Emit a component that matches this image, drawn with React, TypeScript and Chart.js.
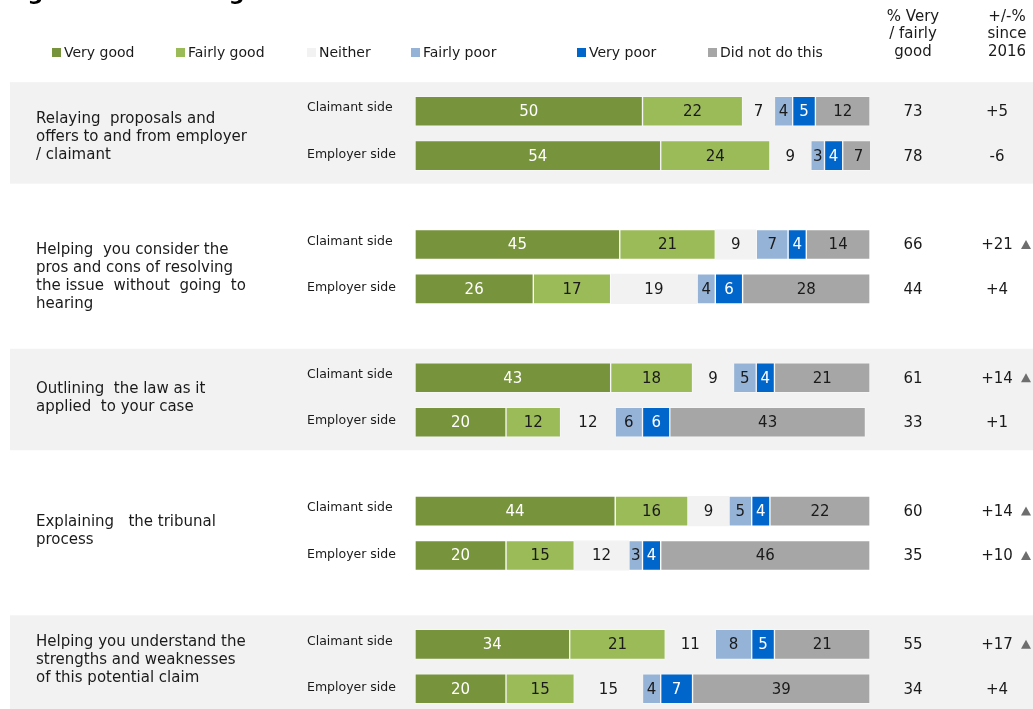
import React, { useEffect, useRef } from "react";
import { Chart, registerables } from "chart.js";

Chart.register(...registerables);

// ---------- data ----------
const titleText = "Figure 4.13: Ratings of the conciliator";
const seriesNames = ["Very good", "Fairly good", "Neither", "Fairly poor", "Very poor", "Did not do this"];
const groupLabels: string[][] = [
  ["Relaying  proposals and", "offers to and from employer", "/ claimant"],
  ["Helping  you consider the", "pros and cons of resolving", "the issue  without  going  to", "hearing"],
  ["Outlining  the law as it", "applied  to your case"],
  ["Explaining   the tribunal", "process"],
  ["Helping you understand the", "strengths and weaknesses", "of this potential claim"],
];
const sideLabels = ["Claimant side", "Employer side"];

// rows: claimant, employer for each group
const veryGood = [50, 54, 45, 26, 43, 20, 44, 20, 34, 20];
const fairlyGood = [22, 24, 21, 17, 18, 12, 16, 15, 21, 15];
const neither = [7, 9, 9, 19, 9, 12, 9, 12, 11, 15];
const fairlyPoor = [4, 3, 7, 4, 5, 6, 5, 3, 8, 4];
const veryPoor = [5, 4, 4, 6, 4, 6, 4, 4, 5, 7];
const didNotDo = [12, 7, 14, 28, 21, 43, 22, 46, 21, 39];
const pctVeryFairlyGood = [73, 78, 66, 44, 61, 33, 60, 35, 55, 34];
const changeSince2016 = ["+5", "-6", "+21", "+4", "+14", "+1", "+14", "+10", "+17", "+4"];
const significantUp = [false, false, true, false, true, false, true, true, true, false];
const headerPct = ["% Very", "/ fairly", "good"];
const headerChange = ["+/-%", "since", "2016"];

// ---------- styles / layout ----------
const colors = ["#77933c", "#9bbb59", "#f2f2f2", "#95b3d7", "#0066cc", "#a6a6a6"];
const borderColors = ["rgba(255,255,255,0.3)", "rgba(255,255,255,0.3)", "#f2f2f2", "rgba(255,255,255,0.3)", "rgba(255,255,255,0.3)", "rgba(255,255,255,0.3)"];
const labelColors = ["#ffffff", "#1a1a1a", "#1a1a1a", "#1a1a1a", "#ffffff", "#1a1a1a"];
const legendX = [52, 176, 307, 411, 577, 708];
const groupLabelOffset = [8, 6, 11, 11, -2];
const FONT = "'DejaVu Sans', Verdana, sans-serif";
const BAND = "#f2f2f2";

const allSeries = [veryGood, fairlyGood, neither, fairlyPoor, veryPoor, didNotDo];
const nGroups = groupLabels.length;
const nSlots = nGroups * 3 - 1;
const slotIndex = (row: number) => Math.floor(row / 2) * 3 + (row % 2);
const categoryLabels: string[] = [];
for (let i = 0; i < nSlots; i++) categoryLabels.push("slot" + i);

function toSlots(values: number[]): (number | null)[] {
  const out: (number | null)[] = new Array(nSlots).fill(null);
  values.forEach((v, r) => {
    out[slotIndex(r)] = v;
  });
  return out;
}

const decorPlugin = {
  id: "decor",
  beforeDatasetsDraw(chart: any) {
    const ctx = chart.ctx;
    const y = chart.scales.y;
    ctx.save();
    ctx.fillStyle = BAND;
    for (let g = 0; g < nGroups; g += 2) {
      const y1 = y.getPixelForValue(g * 3) - 29;
      const y2 = y.getPixelForValue(g * 3 + 1) + 28;
      ctx.fillRect(10, y1, chart.width - 10, y2 - y1);
    }
    ctx.restore();
  },
  afterDatasetsDraw(chart: any) {
    const ctx = chart.ctx;
    ctx.save();
    ctx.font = "15px " + FONT;
    ctx.textAlign = "center";
    ctx.textBaseline = "middle";
    chart.data.datasets.forEach((ds: any, i: number) => {
      const meta = chart.getDatasetMeta(i);
      meta.data.forEach((bar: any, j: number) => {
        const v = ds.data[j];
        if (v == null) return;
        const cx = (bar.x + bar.base) / 2;
        ctx.fillStyle = labelColors[i];
        ctx.fillText(String(v), cx, bar.y + 1);
      });
    });
    ctx.restore();
  },
  afterDraw(chart: any) {
    const ctx = chart.ctx;
    const y = chart.scales.y;
    ctx.save();
    // title (mostly cut off at top)
    ctx.fillStyle = "#000";
    ctx.font = "bold 22px " + FONT;
    ctx.textAlign = "left";
    ctx.textBaseline = "alphabetic";
    ctx.fillText(titleText, 5, 0);

    // legend
    ctx.font = "14px " + FONT;
    ctx.textBaseline = "middle";
    seriesNames.forEach((name, i) => {
      ctx.fillStyle = colors[i];
      ctx.fillRect(legendX[i], 48, 9, 9);
      ctx.fillStyle = "#1a1a1a";
      ctx.fillText(name, legendX[i] + 12, 53);
    });

    // headers
    ctx.font = "15px " + FONT;
    ctx.textAlign = "center";
    headerPct.forEach((t, k) => ctx.fillText(t, 913, 17 + k * 17.5));
    headerChange.forEach((t, k) => ctx.fillText(t, 1007, 17 + k * 17.5));

    // group labels
    ctx.font = "15px " + FONT;
    ctx.textAlign = "left";
    groupLabels.forEach((lines, g) => {
      const start = y.getPixelForValue(g * 3) + groupLabelOffset[g];
      lines.forEach((ln, k) => ctx.fillText(ln, 36, start + k * 18));
    });

    // side labels and right-hand columns
    for (let r = 0; r < pctVeryFairlyGood.length; r++) {
      const py = y.getPixelForValue(slotIndex(r));
      ctx.font = "12.5px " + FONT;
      ctx.textAlign = "left";
      ctx.fillStyle = "#1a1a1a";
      ctx.fillText(sideLabels[r % 2], 307, py - (r % 2 === 0 ? 3 : 1));
      ctx.font = "15px " + FONT;
      ctx.textAlign = "center";
      ctx.fillText(String(pctVeryFairlyGood[r]), 913, py + 1);
      ctx.fillText(changeSince2016[r], 997, py + 1);
      if (significantUp[r]) {
        ctx.fillStyle = "#6e6e6e";
        ctx.beginPath();
        ctx.moveTo(1026, py - 4.5);
        ctx.lineTo(1031, py + 4.5);
        ctx.lineTo(1021, py + 4.5);
        ctx.closePath();
        ctx.fill();
      }
    }
    ctx.restore();
  },
};

export default function App() {
  const ref = useRef<HTMLCanvasElement | null>(null);
  useEffect(() => {
    if (!ref.current) return;
    const chart = new Chart(ref.current, {
      type: "bar",
      data: {
        labels: categoryLabels,
        datasets: allSeries.map((s, i) => ({
          label: seriesNames[i],
          data: toSlots(s),
          backgroundColor: colors[i],
          borderColor: borderColors[i],
          borderWidth: 1,
          borderSkipped: false,
          barThickness: 30,
        })),
      },
      options: {
        indexAxis: "y",
        animation: false,
        responsive: false,
        devicePixelRatio: 1,
        layout: { padding: { left: 415, right: 163, top: 89, bottom: 1 } },
        scales: {
          x: { type: "linear", min: 0, max: 100, stacked: true, display: false },
          y: { type: "category", stacked: true, display: false },
        },
        plugins: {
          legend: { display: false },
          tooltip: { enabled: false },
        },
      },
      plugins: [decorPlugin],
    } as any);
    return () => chart.destroy();
  }, []);
  return (
    <div style={{ position: "fixed", top: 0, left: 0, width: 1033, height: 709, overflow: "hidden", background: "#fff" }}>
      <canvas ref={ref} width={1033} height={712} style={{ width: 1033, height: 712, display: "block" }} />
    </div>
  );
}
